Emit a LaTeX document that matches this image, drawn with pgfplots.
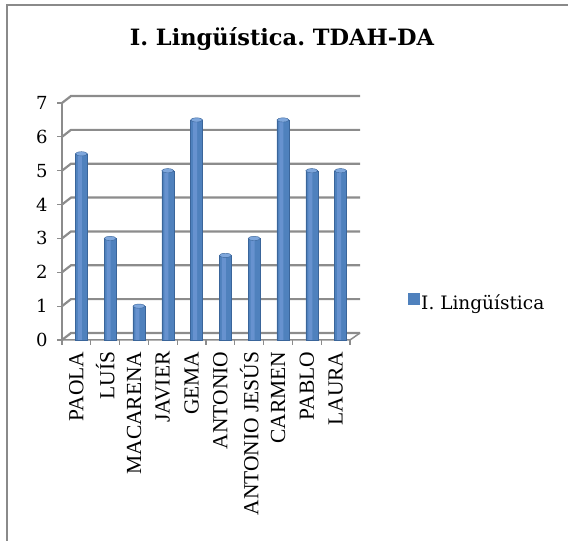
\documentclass[border=0pt]{standalone}
\usepackage{pgfplots}
\pgfplotsset{compat=1.18}
\usepackage{fontspec}
\setmainfont{DejaVu Serif}
\newfontfamily\timesf{Liberation Serif}
\definecolor{barblue}{HTML}{4F81BD}
\definecolor{bardark}{HTML}{3A659A}
\definecolor{barlight}{HTML}{7FA7DC}
\definecolor{barhigh}{HTML}{6792CF}
\definecolor{gridgray}{HTML}{8C8C8C}
\definecolor{framegray}{HTML}{8A8A8A}
\frenchspacing
\begin{document}
\begin{tikzpicture}[x=1pt,y=1pt]
\path[use as bounding box] (0,0) rectangle (568,541);
\draw[framegray, line width=2pt] (7,0) -- (7,536) -- (568,536);
\foreach \v in {0,...,7} {
  \pgfmathsetmacro{\yy}{201+\v*237/7}
  \draw[gridgray, line width=2.2pt] (62,\yy) -- (71,\yy+7) -- (360,\yy+7);
  \draw[gridgray, line width=1.2pt] (57,\yy) -- (62,\yy);
}
\draw[gridgray, line width=1.5pt] (62,201) -- (62,438);
\draw[gridgray, line width=1.5pt] (62,201) -- (350,201) -- (360,208);
\foreach \k in {0,...,10} \draw[gridgray,line width=1.2pt] (62+28.8*\k,201) -- (62+28.8*\k,196);
\node[font=\bfseries\fontsize{22.5}{22.5}\selectfont] at (282,502) {I. Lingüística. TDAH-DA};
\begin{axis}[
  at={(62pt,201pt)}, anchor=south west,
  width=288pt, height=237pt, scale only axis,
  xmin=-0.5, xmax=9.5, ymin=0, ymax=7,
  axis line style={draw=none}, major tick length=0pt,
  ytick={0,...,7}, xtick={0,...,9},
  xticklabels={PAOLA, LUÍS, MACARENA, JAVIER, GEMA, ANTONIO, ANTONIO JESÚS, CARMEN, PABLO, LAURA},
  xticklabel style={rotate=90, anchor=east, font=\timesf\fontsize{21.5}{21.5}\selectfont, xshift=-8pt},
  yticklabel style={font=\fontsize{18}{18}\selectfont, xshift=-11pt},
  /pgf/number format/assume math mode=true,
  legend style={at={(1.2,0.156)}, anchor=west, draw=none, fill=none, font=\fontsize{18.5}{18.5}\selectfont, inner sep=0pt},
  legend cell align=left,
  clip=false,
]
\addplot[ybar, bar width=12pt, bar shift=5pt, draw=bardark, fill=barblue,
  legend image code/.code={\fill[barblue] (0pt,-1pt) rectangle (11pt,10pt);}]
  coordinates {(0,5.5) (1,3) (2,1) (3,5) (4,6.5) (5,2.5) (6,3) (7,6.5) (8,5) (9,5)};
\addlegendentry{I. Lingüística}
\addplot[ybar, forget plot, bar width=4pt, bar shift=3.5pt, draw=none, fill=barhigh]
  coordinates {(0,5.5) (1,3) (2,1) (3,5) (4,6.5) (5,2.5) (6,3) (7,6.5) (8,5) (9,5)};
\addplot[only marks, forget plot, mark=*, mark size=6pt, mark options={xshift=5pt, yscale=0.35, fill=barlight, draw=bardark}]
  coordinates {(0,5.5) (1,3) (2,1) (3,5) (4,6.5) (5,2.5) (6,3) (7,6.5) (8,5) (9,5)};
\end{axis}
\end{tikzpicture}
\end{document}
